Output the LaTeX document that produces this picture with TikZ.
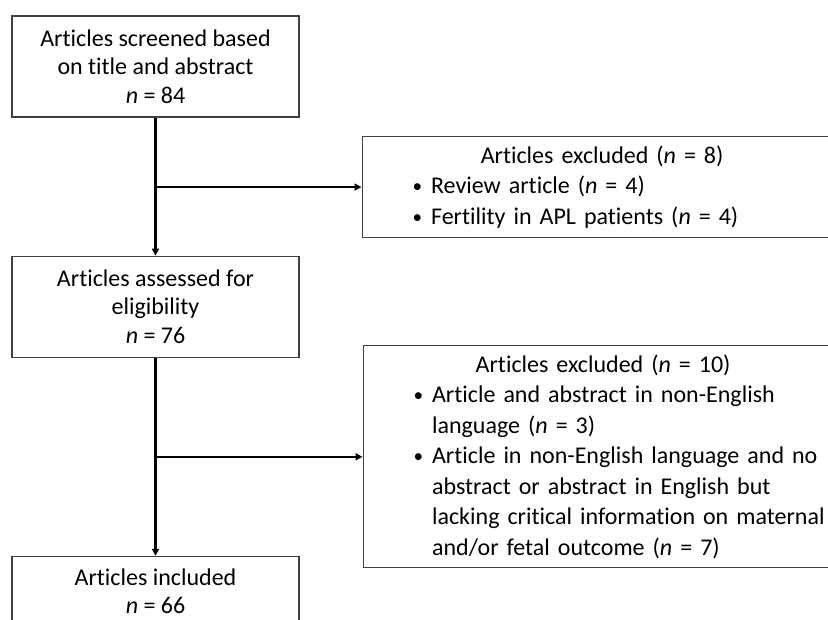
\documentclass[tikz,border=0pt]{standalone}
\usepackage{fontspec}
\setmainfont{Carlito}[Ligatures=NoCommon]
\usepackage{tikz}
\usetikzlibrary{positioning,arrows.meta}
\newcommand{\bul}{\makebox[18pt][l]{\hspace{-0.5pt}\raisebox{1pt}{\scalebox{0.8}{\textbullet}}}}
\newcommand{\ind}{\hspace*{18pt}}
\newcommand{\extitle}[1]{\makebox[378pt]{#1}}

\begin{document}
\begin{tikzpicture}[x=1pt,y=1pt,
    box/.style={draw=black!75, line width=1.2pt, minimum width=287pt, minimum height=101pt,
      align=center, inner sep=2pt, font=\fontsize{24}{28.5}\selectfont},
    exbox/.style={draw=black!75, line width=1.2pt, text width=440pt, inner xsep=51pt, inner ysep=2pt,
      align=left, font=\fontsize{24}{30.5}\selectfont},
    flow/.style={line width=2.4pt, -{Triangle[width=7pt,length=7pt]}}]
      \useasboundingbox (0,0) rectangle (828,-619);
      % Define nodes
      \node[box] (screen) at (155.5,-66.5) {Articles screened based\\on title and abstract\\\textit{n} = 84};
      \node[box, below=138pt of screen] (assess) {Articles assessed for\\eligibility\\\textit{n} = 76};
      \node[box, below=198pt of assess, minimum height=70pt] (incl) {Articles included\\\textit{n} = 66};
      \coordinate[below=69.5pt of screen] (b1);
      \coordinate[below=99pt of assess] (b2);
      \node[exbox, minimum height=101pt, right=206pt of b1] (excl1) {\extitle{Articles excluded (\textit{n} = 8)}\\
        \bul Review article (\textit{n} = 4)\\
        \bul Fertility in APL patients (\textit{n} = 4)};
      \node[exbox, minimum height=222pt, right=207pt of b2] (excl2) {\extitle{Articles excluded (\textit{n} = 10)}\\
        \bul Article and abstract in non-English\\
        \ind language (\textit{n} = 3)\\
        \bul Article in non-English language and no\\
        \ind abstract or abstract in English but\\
        \ind lacking critical information on maternal\\
        \ind and/or fetal outcome (\textit{n} = 7)};
      % Connect
      \draw[flow] (screen) -- (assess);
      \draw[flow] (assess) -- (incl);
      \draw[flow] (b1) -- (excl1);
      \draw[flow] (b2) -- (excl2);
    \end{tikzpicture}
\end{document}
